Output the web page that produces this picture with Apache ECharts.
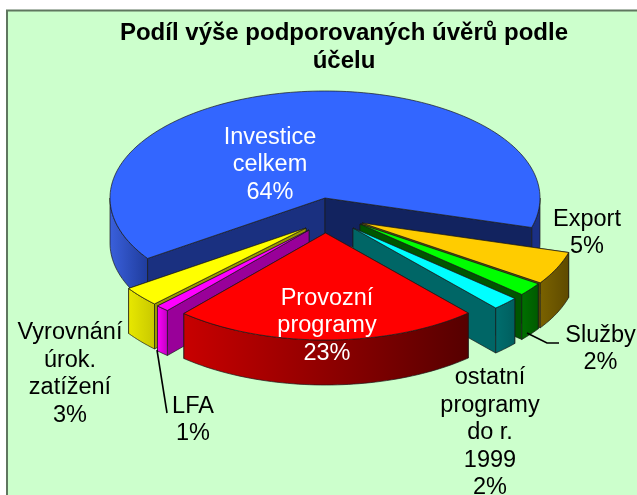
<!DOCTYPE html>
<html><head><meta charset="utf-8">
<style>html,body{margin:0;padding:0;background:#fff}#c{width:637px;height:495px}</style>
<script src="https://cdn.jsdelivr.net/npm/echarts@6/dist/echarts.min.js"></script>
</head><body><div id="c"></div>
<script>
const categories = ['Investice\ncelkem','Export','Služby','ostatní\nprogramy\ndo r.\n1999','Provozní\nprogramy','LFA','Vyrovnání\núrok.\nzatížení'];
const shares = [64,5,2,2,23,1,3];
const titleText = 'Podíl výše podporovaných úvěrů podle\núčelu';

// layout and styling
const RX=215, RY=107, DEPTH=45, START=235.6;
const apex = [[325,198],[362,223],[360,224],[353,228],[325.5,233],[309,230],[306,228]];
const labelPos = [[270,165],[587,233],[600.5,349],[490,433],[327,326],[193,420],[70,374]];
const labelColor = ['#fff','#000','#000','#000','#fff','#000','#000'];
const tops = ['#3366FF','#FFCC00','#00FF00','#00FFFF','#FF0000','#FF00FF','#FFFF00'];
const grad=(a,b)=>new echarts.graphic.LinearGradient(0,0,1,0,[{offset:0,color:a},{offset:1,color:b}]);
const walls = [null,grad('#7A6200','#5E4A00'),grad('#007000','#005A00'),grad('#006E6E','#005E5E'),
  grad('#C80000','#560000'),grad('#FF00FF','#C000C0'),grad('#E8E800','#C8C800')];
const faceA = ['#12235F','#806600','#008000','#006666','#800000','#990099','#999900'];
const faceB = ['#1A3080','#6E5800','#005500','#006666','#800000','#990099','#999900'];
const stroke='#1a1a1a', sw=0.7;
const total = shares.reduce((a,b)=>a+b,0);
const startAngles=[]; shares.reduce((acc,v,i)=>{startAngles[i]=acc;return acc+v/total*360;},START);

function pt(c,deg,d){const r=deg*Math.PI/180;return [c[0]+RX*Math.sin(r),c[1]-RY*Math.cos(r)+(d||0)];}
function arc(c,a,b,d){const n=Math.max(2,Math.ceil(Math.abs(b-a)/1.5)),o=[];for(let i=0;i<=n;i++)o.push(pt(c,a+(b-a)*i/n,d));return o;}
function poly(points,fill,z){return {type:'polygon',shape:{points},style:{fill,stroke,lineWidth:sw},z2:z};}
function face(c,deg,fill,z){const p=pt(c,deg);return poly([c,p,[p[0],p[1]+DEPTH],[c[0],c[1]+DEPTH]],fill,z);}
function outer(c,a,b,fill,z){const t=arc(c,a,b),bt=arc(c,b,a,DEPTH);return poly(t.concat(bt),fill,z);}

// draw order: back to front
const order=[0,6,5,1,2,3,4];

function renderItem(params,api){
  const i=params.dataIndex, v=api.value(0), c=apex[i];
  const a=startAngles[i], b=a+v/total*360, kids=[];
  const mod=x=>((x%360)+360)%360;
  const m=mod((a+b)/2);
  if(i===0){
    kids.push(outer(c,b,450,'#1B3085',1));
    kids.push(outer(c,270,a,grad('#3A60DC','#1F3C9C'),1));
    kids.push(face(c,a,faceB[0],2));
    kids.push(face(c,b,faceA[0],2));
  }else if(m<180){
    kids.push(face(c,a,faceA[i],1));
    kids.push(face(c,b,faceB[i],2));
    kids.push(outer(c,a,b,walls[i],3));
  }else if(i===4){
    kids.push(outer(c,a,b,walls[i],3));
  }else{
    kids.push(face(c,b,faceB[i],1));
    kids.push(face(c,a,faceA[i],2));
    kids.push(outer(c,a,b,walls[i],3));
  }
  kids.push(poly([c].concat(arc(c,a,b)),tops[i],4));
  return {type:'group',children:kids};
}
const chart=echarts.init(document.getElementById('c'),null,{renderer:'canvas'});
const font='"Liberation Sans",Arial,sans-serif';
const labelGraphics=categories.map((n,i)=>({type:'text',x:labelPos[i][0],y:labelPos[i][1],z:20,
  style:{text:n+'\n'+shares[i]+'%',fill:labelColor[i],font:'23.5px '+font,lineHeight:27.5,align:'center',verticalAlign:'middle'}}));
const leader=(pts)=>({type:'polyline',z:15,shape:{points:pts},style:{stroke:'#000',lineWidth:1.6,fill:null}});
chart.setOption({
  animation:false,
  title:{text:titleText,left:339,top:14,textAlign:'center',textStyle:{fontFamily:font,fontWeight:'bold',fontSize:24,lineHeight:28,color:'#000'}},
  graphic:{elements:[
    {type:'rect',z:-10,silent:true,shape:{x:7,y:10.5,width:640,height:500},style:{fill:'#CCFFCC',stroke:'#5F775F',lineWidth:2}},
    leader([[157,350],[167,413]]),
    leader([[527,333],[547,343],[559,343]]),
    ...labelGraphics
  ]},
  series:order.map(i=>({type:'custom',coordinateSystem:'none',silent:true,z:2+order.indexOf(i),
    data:[{value:[shares[i]]}],
    renderItem:(p,api)=>renderItem({dataIndex:i},api)}))
});
</script></body></html>
